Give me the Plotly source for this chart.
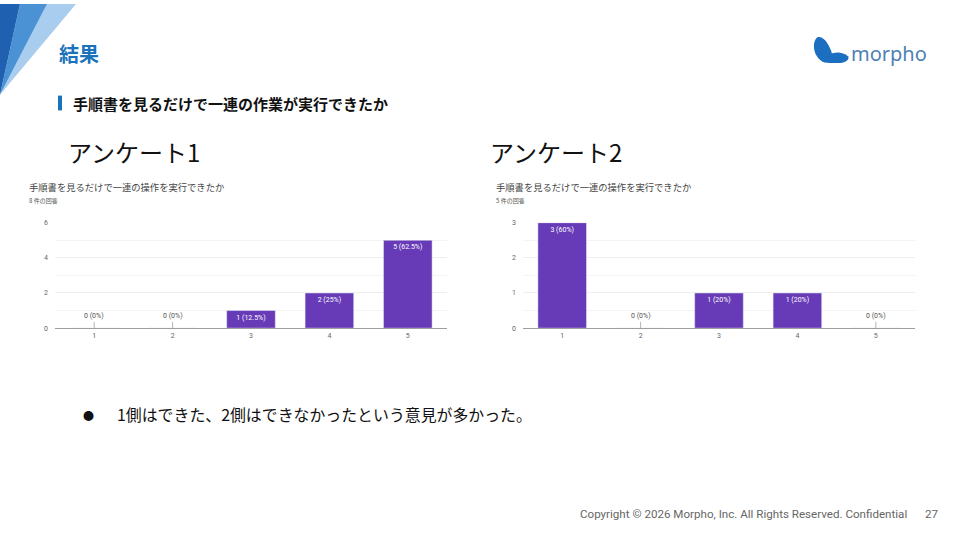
import plotly.graph_objects as go

# survey answers (scale 1-5)
scale = ["1", "2", "3", "4", "5"]
survey1_counts = [0, 0, 1, 2, 5]
survey1_pct = ["0%", "0%", "12.5%", "25%", "62.5%"]
survey2_counts = [3, 0, 1, 1, 0]
survey2_pct = ["60%", "0%", "20%", "20%", "0%"]
survey_titles = ["アンケート1", "アンケート2"]
responses = ["8 件の回答", "5 件の回答"]
question = "手順書を見るだけで一連の操作を実行できたか"

W, H = 960, 540
PURPLE = "#673ab7"
JP = "Noto Sans CJK JP"


def px(x):
    return x / W


def py(y):
    return 1 - y / H


fig = go.Figure()

panels = [
    dict(counts=survey1_counts, pct=survey1_pct, x0=55, x1=447, ymax=6,
         ticks=[0, 2, 4, 6], minor=1, stub=0.36, xa="x", ya="y"),
    dict(counts=survey2_counts, pct=survey2_pct, x0=523, x1=915, ymax=3,
         ticks=[0, 1, 2, 3], minor=0.5, stub=0.18, xa="x2", ya="y2"),
]

annotations = []
for i, p in enumerate(panels):
    labels = [f"{c} ({q})" for c, q in zip(p["counts"], p["pct"])]
    fig.add_trace(go.Bar(
        x=scale, y=p["counts"], xaxis=p["xa"], yaxis=p["ya"],
        marker_color=PURPLE, width=0.62,
        text=[l if c > 0 else "" for l, c in zip(labels, p["counts"])],
        textposition="inside", insidetextanchor="end",
        textfont=dict(color="white", size=7, family="Roboto"),
        hoverinfo="skip", showlegend=False,
    ))
    # little stub + label for empty answers
    zero_x = [s for s, c in zip(scale, p["counts"]) if c == 0]
    fig.add_trace(go.Scatter(
        x=zero_x, y=[0] * len(zero_x), xaxis=p["xa"], yaxis=p["ya"],
        mode="markers", marker=dict(size=1, color="rgba(0,0,0,0)"),
        error_y=dict(type="data", symmetric=False, array=[p["stub"]] * len(zero_x),
                     arrayminus=[0] * len(zero_x), color="#b5b5b5", thickness=1, width=0),
        hoverinfo="skip", showlegend=False,
    ))
    for k, (l, c) in enumerate(zip(labels, p["counts"])):
        if c == 0:
            annotations.append(dict(
                x=k, y=0, xref=p["xa"], yref=p["ya"], text=l, showarrow=False,
                yshift=12, font=dict(size=7, color="#555555", family="Roboto")))

    axis_x = dict(domain=[px(p["x0"]), px(p["x1"])], showgrid=False,
                  showline=True, linecolor="#9e9e9e", linewidth=1.2,
                  tickfont=dict(size=7, color="#666666", family="Roboto"),
                  ticks="", fixedrange=True)
    axis_y = dict(domain=[py(329), py(222)], range=[0, p["ymax"]],
                  tickvals=p["ticks"], showgrid=True, gridcolor="#eeeeee",
                  zeroline=False, showline=False,
                  minor=dict(dtick=p["minor"], showgrid=True, gridcolor="#f3f3f3"),
                  tickfont=dict(size=7, color="#666666", family="Roboto"),
                  ticklabelstandoff=6, fixedrange=True)
    if i == 0:
        fig.update_layout(xaxis=axis_x, yaxis=axis_y)
    else:
        axis_x["anchor"] = "y2"
        axis_y["anchor"] = "x2"
        fig.update_layout(xaxis2=axis_x, yaxis2=axis_y)

# panel headings
for hx, qx, title, resp in [(66, 27, survey_titles[0], responses[0]),
                            (488, 494, survey_titles[1], responses[1])]:
    annotations.append(dict(x=px(hx), y=py(150), text=title,
                            font=dict(size=24, color="#111111", family=JP)))
    annotations.append(dict(x=px(qx), y=py(186), text=question,
                            font=dict(size=9.3, color="#444444", family=JP)))
    annotations.append(dict(x=px(qx), y=py(199), text=resp,
                            font=dict(size=6, color="#555555", family=JP)))

# slide texts
annotations += [
    dict(x=px(57), y=py(50), text="<b>結果</b>",
         font=dict(size=20, color="#1a72bb", family=JP)),
    dict(x=px(71), y=py(101), text="<b>手順書を見るだけで一連の作業が実行できたか</b>",
         font=dict(size=15, color="#111111", family=JP)),
    dict(x=px(81), y=py(417), text="●",
         font=dict(size=11, color="#111111", family=JP)),
    dict(x=px(115), y=py(417), text="1側はできた、2側はできなかったという意見が多かった。",
         font=dict(size=15.9, color="#111111", family=JP)),
    dict(x=px(578), y=py(518), text="Copyright © 2026 Morpho, Inc. All Rights Reserved. Confidential",
         font=dict(size=11.6, color="#666666", family="Roboto")),
    dict(x=px(923), y=py(518), text="27",
         font=dict(size=11.6, color="#666666", family="Roboto")),
    dict(x=px(849), y=py(50), text="morpho",
         font=dict(size=20, color="#4f7fb4", family="Noto Sans")),
]
for a in annotations:
    if "xref" not in a:
        a.update(xref="paper", yref="paper", showarrow=False,
                 xanchor="left", yanchor="middle")

shapes = [
    # corner decoration
    dict(type="path", path=f"M 0 {py(92)} L {px(47)} 1 L {px(76)} 1 Z",
         fillcolor="#a8cdee", line_width=0),
    dict(type="path", path=f"M 0 {py(92)} L {px(20)} 1 L {px(47)} 1 Z",
         fillcolor="#4a92d4", line_width=0),
    dict(type="path", path=f"M 0 {py(92)} L 0 1 L {px(20)} 1 Z",
         fillcolor="#2060b0", line_width=0),
    # heading marker
    dict(type="rect", x0=px(58), x1=px(62), y0=py(108), y1=py(93),
         fillcolor="#1a72bb", line_width=0),
    # logo mark: upper wing and lower wing
    dict(type="path",
         path=(f"M {px(817)} {py(34)} C {px(811)} {py(40)}, {px(814)} {py(55)}, {px(824)} {py(59)} "
               f"C {px(832)} {py(60)}, {px(834)} {py(52)}, {px(830)} {py(45)} "
               f"C {px(827)} {py(38)}, {px(822)} {py(32)}, {px(817)} {py(34)} Z"),
         fillcolor="#1c6fc0", line_width=0),
    dict(type="path",
         path=(f"M {px(822)} {py(58)} C {px(828)} {py(49)}, {px(840)} {py(46)}, {px(848)} {py(53)} "
               f"C {px(850)} {py(56)}, {px(846)} {py(60)}, {px(838)} {py(60)} "
               f"C {px(832)} {py(60)}, {px(826)} {py(60)}, {px(822)} {py(58)} Z"),
         fillcolor="#1c6fc0", line_width=0),
]
for s in shapes:
    s.update(xref="paper", yref="paper")

fig.update_layout(
    width=W, height=H, margin=dict(l=0, r=0, t=0, b=0),
    paper_bgcolor="white", plot_bgcolor="white",
    annotations=annotations, shapes=shapes, bargap=0.38,
)

fig.write_html("out.html", config={"displayModeBar": False},
               post_script="document.body.style.margin='0';")
